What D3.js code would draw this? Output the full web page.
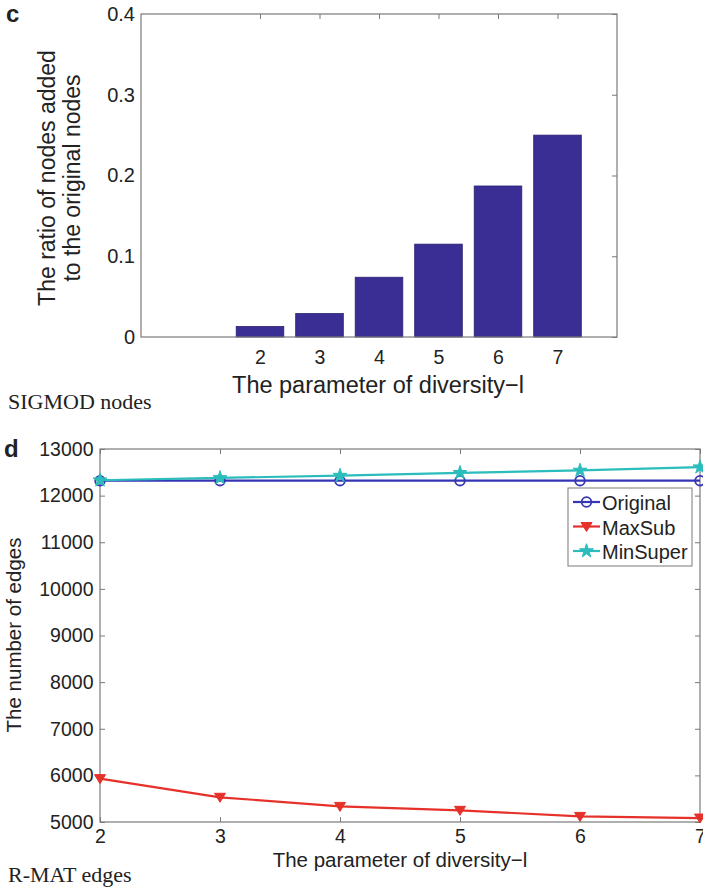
<!DOCTYPE html>
<html><head><meta charset="utf-8">
<script src="https://cdn.jsdelivr.net/npm/d3@7"></script>
<style>body{margin:0;background:#fff}svg{display:block}text{font-family:"Liberation Sans",Arial,sans-serif;fill:#222}</style>
</head><body><svg id="c" width="703" height="889"></svg>
<script>
// Panel c data
const barCats = [2, 3, 4, 5, 6, 7];
const barVals = [0.013, 0.029, 0.074, 0.115, 0.187, 0.25];
const barYTicks = [0, 0.1, 0.2, 0.3, 0.4];
// Panel d data
const lineX = [2, 3, 4, 5, 6, 7];
const original = [12320, 12320, 12320, 12320, 12320, 12320];
const maxSub = [5930, 5530, 5335, 5250, 5120, 5085];
const minSuper = [12330, 12380, 12430, 12490, 12540, 12610];
const lineYTicks = [5000, 6000, 7000, 8000, 9000, 10000, 11000, 12000, 13000];
const seriesNames = ["Original", "MaxSub", "MinSuper"];

const svg = d3.select("#c");
const axisCol = "#7a7a7a";

function styleAxis(fs){
  return g=>{
    g.selectAll(".domain").remove();
    g.selectAll(".tick line").attr("stroke", axisCol);
    g.selectAll(".tick text").style("font-size",fs+"px").attr("fill","#222");
  };
}

// ---------- Panel c ----------
{
  const L=141,R=617,T=14,B=337;
  const x = d3.scaleLinear().domain([0,8]).range([L,R]);
  const y = d3.scaleLinear().domain([0,0.4]).range([B,T]);
  const g = svg.append("g");
  const bw = x(0.8)-x(0);
  g.selectAll("rect.bar").data(barCats).join("rect")
    .attr("x",(d)=>x(d)-bw/2).attr("y",(d,i)=>y(barVals[i]))
    .attr("width",bw).attr("height",(d,i)=>y(0)-y(barVals[i]))
    .attr("fill","#3a2d94").attr("stroke","#2a2070").attr("stroke-width",0.8);
  g.append("rect").attr("x",L).attr("y",T).attr("width",R-L).attr("height",B-T)
    .attr("fill","none").attr("stroke",axisCol).attr("stroke-width",1.2);
  const xb = g.append("g").attr("transform",`translate(0,${B})`)
    .call(d3.axisBottom(x).tickValues(barCats).tickSize(0).tickFormat(d3.format("d"))).call(styleAxis(19.5));
  xb.selectAll(".tick text").attr("dy",null).attr("y",27);
  g.append("g").attr("transform",`translate(0,${T})`)
    .call(d3.axisTop(x).tickValues(barCats).tickSize(-5).tickFormat("")).call(styleAxis(19));
  g.append("g").attr("transform",`translate(${L},0)`)
    .call(d3.axisLeft(y).tickValues(barYTicks).tickSize(0).tickPadding(6).tickFormat(d=>d===0?"0":d3.format(".1f")(d))).call(styleAxis(20));
  g.append("g").attr("transform",`translate(${R},0)`)
    .call(d3.axisRight(y).tickValues(barYTicks).tickSize(-5).tickFormat("")).call(styleAxis(19));
  g.append("text").attr("x",378).attr("y",393).attr("text-anchor","middle").style("font-size","23.5px")
    .text("The parameter of diversity\u2212l");
  const yl = g.append("text").attr("transform",`translate(55,178) rotate(-90)`).attr("text-anchor","middle").style("font-size","23px");
  yl.append("tspan").attr("x",0).attr("dy",0).text("The ratio of nodes added");
  yl.append("tspan").attr("x",0).attr("dy",25).text("to the original nodes");
  g.append("text").attr("x",6).attr("y",22).style("font-size","24px").style("font-weight","bold").text("c");
  g.append("text").attr("x",8).attr("y",409).style("font-family","'Liberation Serif','Times New Roman',serif").style("font-size","22px").attr("fill","#333").text("SIGMOD nodes");
}

// ---------- Panel d ----------
{
  const L=100,R=700,T=449,B=822;
  const x = d3.scaleLinear().domain([2,7]).range([L,R]);
  const y = d3.scaleLinear().domain([5000,13000]).range([B,T]);
  const g = svg.append("g");
  g.append("rect").attr("x",L).attr("y",T).attr("width",R-L).attr("height",B-T)
    .attr("fill","none").attr("stroke",axisCol).attr("stroke-width",1.2);
  const xb = g.append("g").attr("transform",`translate(0,${B})`)
    .call(d3.axisBottom(x).tickValues(lineX).tickSize(-5).tickFormat(d3.format("d"))).call(styleAxis(19.5));
  xb.selectAll(".tick text").attr("dy",null).attr("y",21);
  g.append("g").attr("transform",`translate(0,${T})`)
    .call(d3.axisTop(x).tickValues(lineX).tickSize(-5).tickFormat("")).call(styleAxis(19.5));
  g.append("g").attr("transform",`translate(${L},0)`)
    .call(d3.axisLeft(y).tickValues(lineYTicks).tickSize(-5).tickPadding(6.5).tickFormat(d3.format("d"))).call(styleAxis(19.5));
  g.append("g").attr("transform",`translate(${R},0)`)
    .call(d3.axisRight(y).tickValues(lineYTicks).tickSize(-5).tickFormat("")).call(styleAxis(19.5));

  const series = [
    {name:seriesNames[0], vals:original, col:"#3535b5", sym:"circle"},
    {name:seriesNames[1], vals:maxSub, col:"#e6302a", sym:"tri"},
    {name:seriesNames[2], vals:minSuper, col:"#2bbcbc", sym:"star"}
  ];
  const line = d3.line().x((d,i)=>x(lineX[i])).y(d=>y(d));
  function marker(sel, s, cx, cy){
    if(s.sym==="tri"){
      sel.append("path").attr("d",`M${cx-5.5},${cy-4}L${cx+5.5},${cy-4}L${cx},${cy+5}Z`).attr("fill",s.col).attr("stroke",s.col);
    } else if(s.sym==="circle"){
      sel.append("circle").attr("cx",cx).attr("cy",cy).attr("r",4.8).attr("fill","none").attr("stroke",s.col).attr("stroke-width",1.8);
    } else {
      sel.append("path").attr("d",d3.symbol(d3.symbolStar,60)()).attr("transform",`translate(${cx},${cy})`).attr("fill",s.col).attr("stroke",s.col);
    }
  }
  series.forEach(s=>{
    g.append("path").datum(s.vals).attr("d",line).attr("fill","none").attr("stroke",s.col).attr("stroke-width",2.2);
    s.vals.forEach((v,i)=>marker(g,s,x(lineX[i]),y(v)));
  });
  // legend
  const lg = g.append("g");
  lg.append("rect").attr("x",568).attr("y",488).attr("width",124).attr("height",78).attr("fill","#fff").attr("stroke",axisCol).attr("stroke-width",1);
  series.forEach((s,i)=>{
    const yy = 502+i*24.5;
    lg.append("line").attr("x1",573).attr("x2",600).attr("y1",yy).attr("y2",yy).attr("stroke",s.col).attr("stroke-width",2.2);
    marker(lg,s,586.5,yy);
    lg.append("text").attr("x",602).attr("y",yy+8).style("font-size","20px").text(s.name);
  });
  g.append("text").attr("x",400).attr("y",867).attr("text-anchor","middle").style("font-size","20.5px")
    .text("The parameter of diversity\u2212l");
  g.append("text").attr("transform",`translate(21,635) rotate(-90)`).attr("text-anchor","middle").style("font-size","20.5px").text("The number of edges");
  g.append("text").attr("x",4).attr("y",457).style("font-size","24px").style("font-weight","bold").text("d");
  g.append("text").attr("x",8).attr("y",882).style("font-family","'Liberation Serif','Times New Roman',serif").style("font-size","22px").attr("fill","#333").text("R-MAT edges");
}
</script></body></html>
